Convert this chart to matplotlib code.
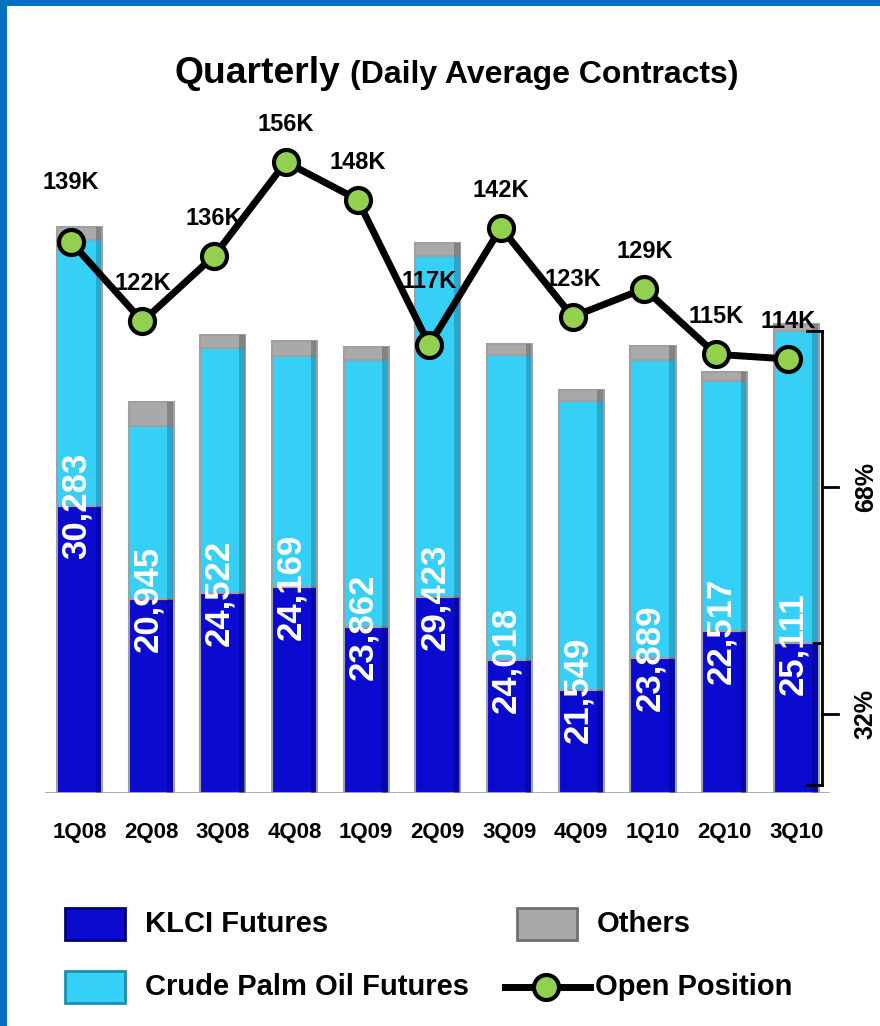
import matplotlib
matplotlib.use('Agg')
import matplotlib.pyplot as plt
import numpy as np
from matplotlib.patches import Rectangle
from matplotlib.lines import Line2D

plt.rcParams['font.family'] = ['Liberation Sans', 'DejaVu Sans']
plt.rcParams['font.weight'] = 'bold'

# Daily average contracts per quarter
quarters = ['1Q08', '2Q08', '3Q08', '4Q08', '1Q09', '2Q09', '3Q09', '4Q09', '1Q10', '2Q10', '3Q10']
klci = [15355, 10380, 10700, 11020, 8880, 10490, 7115, 5510, 7220, 8670, 8000]
cpo = [14228, 9265, 13122, 12349, 14282, 18233, 16303, 15439, 15919, 13347, 16711]
others = [700, 1300, 700, 800, 700, 700, 600, 600, 750, 500, 400]
totals = ['30,283', '20,945', '24,522', '24,169', '23,862', '29,423',
          '24,018', '21,549', '23,889', '22,517', '25,111']
# open position, thousands of contracts
open_pos = [139, 122, 136, 156, 148, 117, 142, 123, 129, 115, 114]
share_labels = ['68%', '32%']

KLCI_C = '#0b0bd0'
CPO_C = '#36cff6'
OTH_C = '#a9a9a9'
GREEN = '#92d050'

W, H = 880, 1026
fig = plt.figure(figsize=(W / 100, H / 100), dpi=100)
ax = fig.add_axes([45 / W, 233 / H, 785 / W, 693 / H])
ax.set_xlim(-0.48, 10.47)
ax.set_ylim(0, 693 * 53.5)
for s in ax.spines.values():
    s.set_visible(False)
ax.set_yticks([])

x = np.arange(len(quarters))
klci = np.array(klci)
cpo = np.array(cpo)
others = np.array(others)
bw = 0.63


def shaded_bars(xs, h, bottom, color, dark):
    ax.bar(xs, h, bw, bottom=bottom, color=color, edgecolor='#a0a0a0', lw=1.5, zorder=2)
    # darker strip on the right side for a bit of depth
    ax.bar(xs + bw / 2 - 0.05, h, 0.08, bottom=bottom, color=dark, alpha=0.35, lw=0, zorder=2.1)


shaded_bars(x, klci, 0, KLCI_C, '#000060')
shaded_bars(x, cpo, klci, CPO_C, '#106080')
shaded_bars(x, others, klci + cpo, OTH_C, '#404040')

ax.axhline(0, color='#a6a6a6', lw=2, zorder=1)

for xi, k, t in zip(x, klci, totals):
    ax.text(xi - 0.05, k, t, rotation=90, ha='center', va='center', color='white',
            fontsize=25, fontweight='bold', zorder=4)

ax.set_xticks(x, quarters)
ax.tick_params(axis='x', length=0, pad=21, labelsize=16)

# bracket showing the KLCI / CPO split for the last quarter
xb = 10.356
top = klci[-1] + cpo[-1]
mid = klci[-1]
bot = 430
kw = dict(color='black', lw=2, clip_on=False, zorder=5)
ax.plot([xb, xb], [bot, top], **kw)
ax.plot([10.15, xb], [top, top], **kw)
ax.plot([10.15, xb], [bot, bot], **kw)
ax.plot([10.25, xb], [mid, mid], **kw)
for ym, lab in zip([(mid + top) / 2, (bot + mid) / 2], share_labels):
    ax.plot([xb, 10.58], [ym, ym], **kw)
    ax.text(10.97, ym, lab, rotation=90, ha='center', va='center', fontsize=18,
            fontweight='bold')

# open position line on secondary axis
ax2 = ax.twinx()
ax2.set_ylim(156 - (793 - 162) / 4.69, 156 + (162 - 100) / 4.69)
ax2.axis('off')
ax2.plot(x - 0.12, open_pos, color='black', lw=5, marker='o', markersize=18,
         markerfacecolor=GREEN, markeredgecolor='black', markeredgewidth=3, zorder=6)
raised = {0: 43, 5: 46}
for i, (xi, v) in enumerate(zip(x, open_pos)):
    ax2.annotate(f'{v}K', (xi - 0.12, v), xytext=(0, raised.get(i, 27)),
                 textcoords='offset points', ha='center', va='center',
                 fontsize=17, fontweight='bold')

# title
fig.text(175 / W, 1 - 83 / H, 'Quarterly', fontsize=26.8, fontweight='bold', va='baseline')
fig.text(350 / W, 1 - 83 / H, '(Daily Average Contracts)', fontsize=23,
         fontweight='bold', va='baseline')

# legend and border drawn in pixel space
lax = fig.add_axes([0, 0, 1, 1])
lax.set_xlim(0, W)
lax.set_ylim(H, 0)
lax.axis('off')
lax.add_patch(Rectangle((0, 0), 7, H, color='#0070c0', lw=0))
lax.add_patch(Rectangle((0, 0), W, 6, color='#0070c0', lw=0))

items = [((65, 908), KLCI_C, '#00007a', 'KLCI Futures'),
         ((65, 971), CPO_C, '#1890b0', 'Crude Palm Oil Futures'),
         ((517, 908), OTH_C, '#707070', 'Others')]
for (px, py), fc, ec, lab in items:
    lax.add_patch(Rectangle((px, py), 60, 32, facecolor=fc, edgecolor=ec, lw=2))
    lax.text(px + 80, py + 16, lab, fontsize=21, fontweight='bold', va='center')
lax.add_line(Line2D([505, 590], [987, 987], color='black', lw=5))
lax.plot([546], [987], marker='o', markersize=18, markerfacecolor=GREEN,
         markeredgecolor='black', markeredgewidth=3)
lax.text(595, 987, 'Open Position', fontsize=21, fontweight='bold', va='center')

fig.savefig('out.png', dpi=100)
